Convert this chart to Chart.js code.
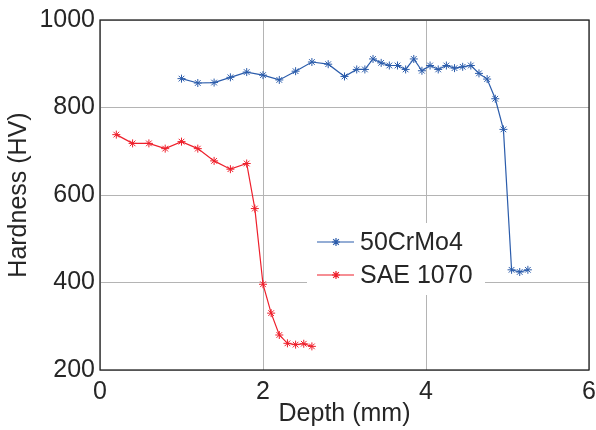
<!DOCTYPE html>
<html>
<head>
<meta charset="utf-8">
<script src="https://cdn.jsdelivr.net/npm/chart.js@4/dist/chart.umd.min.js"></script>
<style>
    html, body { margin: 0; padding: 0; background: #fff; }
    #wrap { width: 596px; height: 430px; }
</style>
</head>
<body>
<div id="wrap"><canvas id="hardnessChart" width="596" height="430"></canvas></div>
<script>
// Depth (mm) and hardness (HV)
const depth50CrMo4 = [1.0, 1.2, 1.4, 1.6, 1.8, 2.0, 2.2, 2.4, 2.6, 2.8, 3.0, 3.15, 3.25, 3.35, 3.45, 3.55, 3.65,
    3.75, 3.85, 3.95, 4.05, 4.15, 4.25, 4.35, 4.45, 4.55, 4.65, 4.75, 4.85, 4.95, 5.05, 5.15, 5.25];
const hv50CrMo4 = [866, 856, 857, 869, 881, 874, 863, 883, 904, 899, 871, 887, 887, 911, 902, 896, 896,
    887, 911, 884, 896, 887, 896, 890, 893, 896, 878, 865, 820, 750, 429, 424, 429];

const depthSAE1070 = [0.2, 0.4, 0.6, 0.8, 1.0, 1.2, 1.4, 1.6, 1.8, 1.9, 2.0, 2.1, 2.2, 2.3, 2.4, 2.5, 2.6];
const hvSAE1070 = [738, 718, 718, 706, 722, 706, 678, 659, 672, 569, 396, 330, 280, 261, 258, 260, 254];

const seriesNames = ['50CrMo4', 'SAE 1070'];
const seriesColors = ['#2b5cab', '#ee1f2b'];
const xTicks = [0, 2, 4, 6];
const yTicks = [200, 400, 600, 800, 1000];

const FONT = 'Arial, "Liberation Sans", sans-serif';
const TEXT = '#262626';

function toPoints(xs, ys) {
    return xs.map(function(x, i) { return { x: x, y: ys[i] }; });
}

// box around the plot + legend with white background
const framePlugin = {
    id: 'frame',
    afterDatasetsDraw: function(chart) {
        const ctx = chart.ctx;
        const a = chart.chartArea;
        ctx.save();

        // legend
        const lx = 307, ly = 223, lw = 178, lh = 72;
        ctx.fillStyle = '#fff';
        ctx.fillRect(lx, ly, lw, lh);
        const rows = [242, 275];
        ctx.font = '25px ' + FONT;
        ctx.textBaseline = 'middle';
        ctx.textAlign = 'left';
        chart.data.datasets.forEach(function(ds, i) {
            const y = rows[i];
            ctx.strokeStyle = ds.borderColor;
            ctx.lineWidth = 1.2;
            ctx.beginPath();
            ctx.moveTo(317, y);
            ctx.lineTo(354, y);
            ctx.stroke();
            Chart.helpers.drawPoint(ctx, {
                pointStyle: 'star', radius: 4, borderWidth: 1
            }, 336, y);
            ctx.fillStyle = TEXT;
            ctx.fillText(ds.label, 360, y + 1);
        });

        // full box
        ctx.strokeStyle = '#222';
        ctx.lineWidth = 1.3;
        ctx.strokeRect(a.left, a.top, a.right - a.left, a.bottom - a.top);
        ctx.restore();
    }
};

const ctx = document.getElementById('hardnessChart');
new Chart(ctx, {
    type: 'line',
    data: {
        datasets: [
            {
                label: seriesNames[0],
                data: toPoints(depth50CrMo4, hv50CrMo4),
                borderColor: seriesColors[0],
                backgroundColor: seriesColors[0],
                borderWidth: 1.2,
                pointStyle: 'star',
                pointRadius: 4,
                pointBorderWidth: 1,
                tension: 0
            },
            {
                label: seriesNames[1],
                data: toPoints(depthSAE1070, hvSAE1070),
                borderColor: seriesColors[1],
                backgroundColor: seriesColors[1],
                borderWidth: 1.2,
                pointStyle: 'star',
                pointRadius: 4,
                pointBorderWidth: 1,
                tension: 0
            }
        ]
    },
    options: {
        responsive: false,
        animation: false,
        layout: { padding: { top: 14, right: 0, left: 0, bottom: 0 } },
        plugins: {
            legend: { display: false },
            tooltip: { enabled: false }
        },
        scales: {
            x: {
                type: 'linear',
                min: 0,
                max: 6,
                afterBuildTicks: function(scale) {
                    scale.ticks = xTicks.map(function(v) { return { value: v }; });
                },
                afterFit: function(scale) {
                    scale.height = 60;
                    scale.paddingRight = 7;
                    scale.paddingLeft = 0;
                },
                grid: { color: '#b4b4b4', lineWidth: 1, drawTicks: false },
                border: { display: false },
                ticks: {
                    color: TEXT, font: { family: FONT, size: 25 }, padding: 7, maxRotation: 0,
                    callback: function(v) { return String(v); }
                },
                title: {
                    display: true, text: 'Depth (mm)', color: TEXT,
                    font: { family: FONT, size: 25 }, padding: { top: 4, bottom: 1 }
                }
            },
            y: {
                type: 'linear',
                min: 200,
                max: 1000,
                afterBuildTicks: function(scale) {
                    scale.ticks = yTicks.map(function(v) { return { value: v }; });
                },
                afterFit: function(scale) { scale.width = 100; },
                grid: { color: '#b4b4b4', lineWidth: 1, drawTicks: false },
                border: { display: false },
                ticks: {
                    color: TEXT, font: { family: FONT, size: 25 }, padding: 5,
                    callback: function(v) { return String(v); }
                },
                title: {
                    display: true, text: 'Hardness (HV)', color: TEXT,
                    font: { family: FONT, size: 25 }, padding: { top: 4, bottom: 4 }
                }
            }
        }
    },
    plugins: [framePlugin]
});
</script>
</body>
</html>
